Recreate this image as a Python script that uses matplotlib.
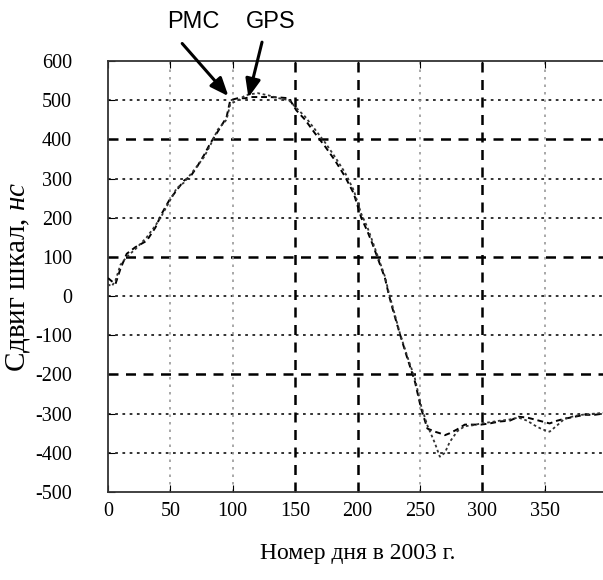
#clock offset: PMC vs GPS time scales over 2003
import numpy as np
import matplotlib.pyplot as plt

plt.rcParams['font.family'] = ['Liberation Serif', 'DejaVu Serif']
plt.rcParams['mathtext.fontset'] = 'custom'
plt.rcParams['mathtext.rm'] = 'Liberation Serif'
plt.rcParams['mathtext.it'] = 'Liberation Serif:italic'

#day numbers
days = [0, 3, 6, 10, 15, 22, 31, 38, 43, 49, 55, 61, 66, 71, 77, 82, 88, 95, 98,
        104, 110, 114, 120, 129, 137, 145, 151, 158, 166, 174, 182, 190, 197, 203,
        208, 212, 217, 222, 225, 228, 234, 240, 246, 251, 256, 262, 266, 270, 274,
        280, 286, 292, 299, 306, 314, 322, 329, 336, 342, 348, 354, 360, 366, 374,
        382, 390, 397]
#PMC offset, ns
pmc = [46, 38, 31, 70, 108, 125, 141, 175, 210, 244, 270, 295, 305, 328, 360, 390,
       420, 456, 500, 505, 505, 508, 508, 508, 507, 505, 474, 450, 415, 382, 346,
       305, 262, 200, 165, 133, 90, 46, 5, -31, -97, -159, -218, -287, -338, -346,
       -350, -355, -350, -340, -328, -328, -328, -325, -320, -318, -308, -310, -315,
       -320, -325, -318, -313, -308, -303, -303, -300]
#GPS offset, ns
gps = [30, 25, 40, 80, 100, 120, 150, 180, 205, 240, 275, 290, 310, 330, 355, 385,
       425, 450, 490, 500, 512, 515, 518, 512, 505, 500, 480, 458, 425, 392, 355,
       315, 270, 210, 175, 140, 95, 50, 10, -25, -95, -155, -210, -280, -330, -375,
       -410, -400, -372, -345, -332, -330, -325, -322, -318, -315, -310, -318, -330,
       -340, -346, -330, -313, -306, -302, -300, -298]

xticks = [0, 50, 100, 150, 200, 250, 300, 350]
yticks = [600, 500, 400, 300, 200, 100, 0, -100, -200, -300, -400, -500]

fig = plt.figure(figsize=(6.03, 5.80), dpi=100)
ax = fig.add_axes([108/603, 88/580, 499/603, 431/580])

#grid: heavy dashed lines and light dotted ones
for y in [500, 300, 200, 0, -100, -300, -400]:
    ax.axhline(y, color='#222222', lw=1.3, ls=(0, (1.5, 2.5)), zorder=1)
for y in [400, 100, -200]:
    ax.axhline(y, color='black', lw=1.8, ls=(0, (4, 3)), zorder=1)
for x in [150, 200, 300]:
    ax.axvline(x, color='black', lw=1.8, ls=(0, (4, 3)), zorder=1)
for x in [50, 100, 250, 350]:
    ax.axvline(x, color='#999999', lw=1.2, ls=(0, (1.5, 3)), zorder=1)

ax.plot(days, pmc, color='black', lw=1.4, ls=(0, (3, 2)), zorder=3)
ax.plot(days, gps, color='#333333', lw=1.3, ls=(0, (1.5, 1.5)), zorder=3)

ax.set_xlim(0, 400)
ax.set_ylim(-500, 600)
ax.set_xticks(xticks)
ax.set_yticks(yticks)
ax.set_yticklabels([str(v) for v in yticks])
ax.tick_params(axis='both', direction='in', length=5, top=True, labelsize=14.5)
ax.tick_params(axis='y', pad=26)
ax.tick_params(axis='x', pad=7)
for s in ['left', 'bottom', 'top']:
    ax.spines[s].set_color('#333333')
    ax.spines[s].set_linewidth(1.3)
ax.spines['right'].set_visible(False)

ax.set_xlabel('Номер дня в 2003 г.', fontsize=17, labelpad=16)
fig.text(18/603, 1 - 277/580, 'Сдвиг шкал, $\\mathit{нс}$', rotation=90,
         fontsize=21, ha='center', va='center')

#labels and arrows pointing to both curves
fig.text(193/603, 1 - 22/580, 'PMC', family='Liberation Sans', fontsize=17,
         ha='center', va='center')
fig.text(271/603, 1 - 22/580, 'GPS', family='Liberation Sans', fontsize=17,
         ha='center', va='center')
arrow = dict(arrowstyle='-|>,head_width=0.45,head_length=1.1', color='black', lw=2.2)
ax.annotate('', xy=(98, 505), xytext=(58, 650), arrowprops=arrow, annotation_clip=False)
ax.annotate('', xy=(112, 500), xytext=(124, 655), arrowprops=arrow, annotation_clip=False)

fig.savefig('out.png', dpi=100)
